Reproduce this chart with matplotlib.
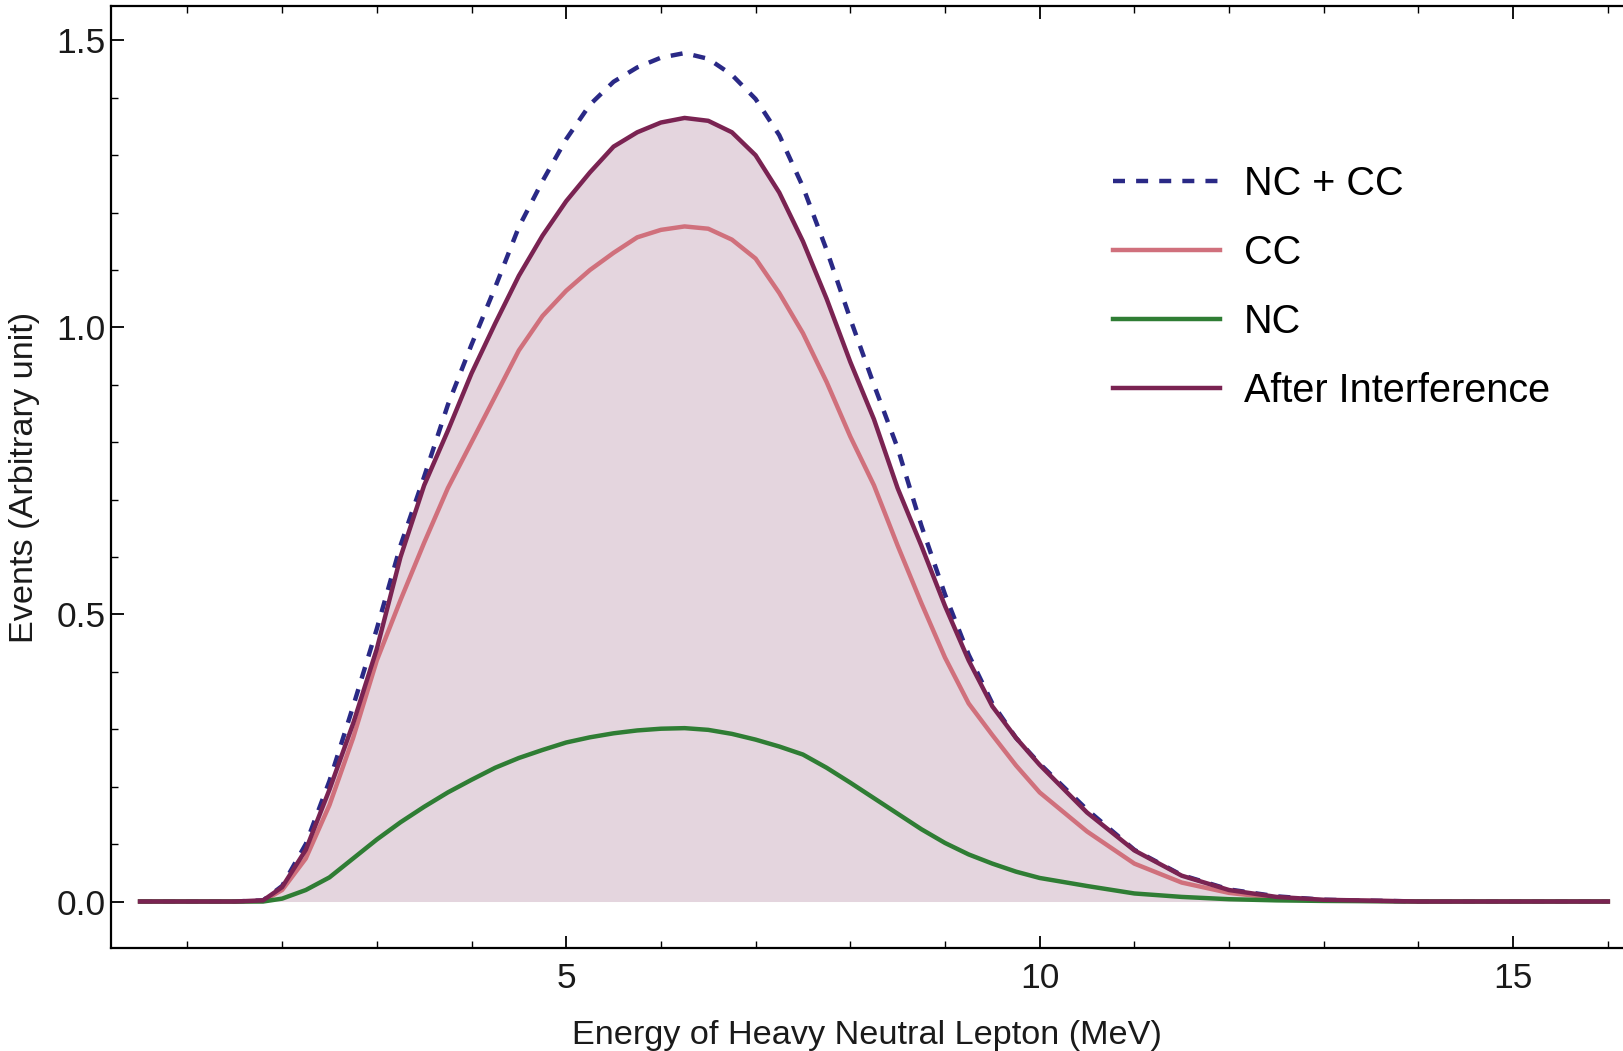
import matplotlib
matplotlib.use("Agg")
import matplotlib.pyplot as plt
from matplotlib.ticker import MultipleLocator, FixedLocator, FormatStrFormatter

# ---- data ----
energy = [0.5, 1.0, 1.5, 1.8, 2.0, 2.25, 2.5, 2.75, 3.0, 3.25, 3.5, 3.75, 4.0, 4.25,
          4.5, 4.75, 5.0, 5.25, 5.5, 5.75, 6.0, 6.25, 6.5, 6.75, 7.0, 7.25, 7.5, 7.75,
          8.0, 8.25, 8.5, 8.75, 9.0, 9.25, 9.5, 9.75, 10.0, 10.5, 11.0, 11.5, 12.0,
          12.5, 13.0, 14.0, 15.0, 16.0]

nc_plus_cc = [0, 0, 0, 0.002, 0.027, 0.10, 0.21, 0.34, 0.475, 0.62, 0.74, 0.865, 0.97, 1.07,
              1.175, 1.255, 1.328, 1.388, 1.428, 1.453, 1.470, 1.478, 1.468, 1.440, 1.398,
              1.335, 1.245, 1.135, 1.015, 0.90, 0.79, 0.655, 0.535, 0.43, 0.345, 0.285,
              0.24, 0.16, 0.09, 0.046, 0.021, 0.009, 0.003, 0, 0, 0]

cc = [0, 0, 0, 0.001, 0.02, 0.075, 0.168, 0.285, 0.42, 0.525, 0.625, 0.72, 0.80, 0.88,
      0.96, 1.02, 1.064, 1.10, 1.13, 1.157, 1.17, 1.176, 1.172, 1.153, 1.12, 1.06,
      0.99, 0.905, 0.81, 0.725, 0.62, 0.52, 0.425, 0.345, 0.29, 0.237, 0.19, 0.122,
      0.066, 0.033, 0.015, 0.006, 0.002, 0, 0, 0]

nc = [0, 0, 0, 0.0, 0.005, 0.02, 0.042, 0.075, 0.108, 0.138, 0.165, 0.19, 0.212, 0.233,
      0.25, 0.264, 0.277, 0.286, 0.293, 0.298, 0.301, 0.302, 0.299, 0.292, 0.282, 0.27,
      0.256, 0.233, 0.207, 0.18, 0.153, 0.126, 0.102, 0.082, 0.066, 0.052, 0.041, 0.027,
      0.014, 0.008, 0.004, 0.002, 0.001, 0, 0, 0]

after_interference = [0, 0, 0, 0.002, 0.025, 0.09, 0.195, 0.31, 0.44, 0.60, 0.725, 0.82,
                      0.92, 1.007, 1.09, 1.16, 1.22, 1.27, 1.315, 1.34, 1.357, 1.365, 1.36,
                      1.34, 1.30, 1.235, 1.15, 1.05, 0.94, 0.84, 0.72, 0.62, 0.515, 0.42,
                      0.34, 0.285, 0.238, 0.155, 0.089, 0.045, 0.02, 0.008, 0.003, 0, 0, 0]

labels = ["NC + CC", "CC", "NC", "After Interference"]

# ---- styling ----
plt.rcParams['font.family'] = ['Liberation Sans', 'DejaVu Sans']
W, H = 1623, 1051
fig = plt.figure(figsize=(W / 100, H / 100), dpi=100)
ax = fig.add_axes([111 / W, (H - 948) / H, 1 - 111 / W, (948 - 6) / H])

c_sum = '#2a2986'
c_cc = '#d0707c'
c_nc = '#2f7d34'
c_ai = '#7a2352'
c_fill = '#e4d5de'

ax.fill_between(energy, 0, after_interference, color=c_fill, lw=0, zorder=1)
l1, = ax.plot(energy, nc_plus_cc, color=c_sum, lw=3.2, dashes=(2.7, 2.5), zorder=2)
l2, = ax.plot(energy, cc, color=c_cc, lw=3.2, zorder=3)
l3, = ax.plot(energy, nc, color=c_nc, lw=3.2, zorder=4)
l4, = ax.plot(energy, after_interference, color=c_ai, lw=3.2, zorder=5)

ax.set_xlim(0.193, 16.16)
ax.set_ylim(-0.081, 1.560)

ax.xaxis.set_major_locator(FixedLocator([5, 10, 15]))
ax.xaxis.set_minor_locator(MultipleLocator(1))
ax.yaxis.set_major_locator(MultipleLocator(0.5))
ax.yaxis.set_minor_locator(MultipleLocator(0.1))
ax.yaxis.set_major_formatter(FormatStrFormatter('%.1f'))

for s in ['left', 'bottom', 'top']:
    ax.spines[s].set_linewidth(1.6)
    ax.spines[s].set_color('black')
ax.spines['right'].set_visible(False)

ax.tick_params(which='both', direction='in', top=True, right=False, color='black')
ax.tick_params(which='major', length=9, width=1.3, labelsize=25.5, labelcolor='#1a1a1a')
ax.tick_params(which='minor', length=5, width=1.0)
ax.tick_params(axis='x', which='major', pad=10)
ax.tick_params(axis='y', which='major', pad=4)

ax.set_xlabel("Energy of Heavy Neutral Lepton (MeV)", fontsize=24.7, color='#1a1a1a', labelpad=18)
ax.set_ylabel("Events (Arbitrary unit)", fontsize=24.7, color='#1a1a1a', labelpad=12)

leg = ax.legend([l1, l2, l3, l4], labels, loc='upper left',
                bbox_to_anchor=((1113 - 111) / (W - 111), (948 - 165) / (948 - 6)),
                frameon=False, fontsize=28.5, handlelength=2.7, handletextpad=0.6,
                labelspacing=0.78, borderaxespad=0, borderpad=0)

fig.savefig("out.png", dpi=100)
